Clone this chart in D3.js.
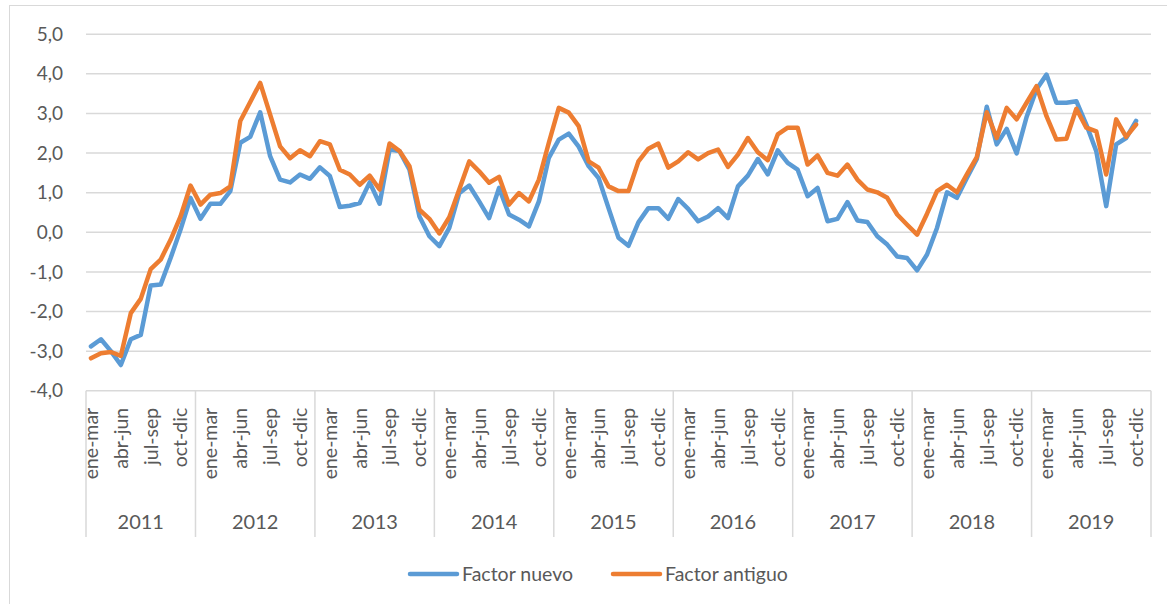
<!DOCTYPE html>
<html>
<head>
<meta charset="utf-8">
<script src="https://cdn.jsdelivr.net/npm/d3@7"></script>
<style>
  html, body { margin: 0; padding: 0; background: #fff; }
  svg { display: block; }
  .lbl { font-family: Lato, "Open Sans", sans-serif; fill: #595959; }
</style>
</head>
<body>
<svg id="chart" width="1167" height="604"></svg>
<script>
// Moving-quarter categories: month abbreviations and year groups
const months = ["ene", "feb", "mar", "abr", "may", "jun", "jul", "ago", "sep", "oct", "nov", "dic"];
const years = [2011, 2012, 2013, 2014, 2015, 2016, 2017, 2018, 2019];
const yTicks = [-4, -3, -2, -1, 0, 1, 2, 3, 4, 5];
const seriesNames = ["Factor nuevo", "Factor antiguo"];
const seriesColors = ["#5B9BD5", "#ED7D31"];

// Year-on-year variation (%), one value per moving quarter
const factorNuevo = [
  -2.88, -2.70, -3.00, -3.35, -2.70, -2.59, -1.34, -1.32, -0.65, 0.07, 0.87,
  0.34, 0.72, 0.72, 1.04, 2.26, 2.41, 3.03, 1.92, 1.33, 1.26, 1.46, 1.35,
  1.64, 1.42, 0.64, 0.67, 0.74, 1.26, 0.72, 2.09, 2.05, 1.58, 0.40, -0.10,
  -0.35, 0.11, 0.99, 1.18, 0.78, 0.36, 1.12, 0.45, 0.32, 0.15, 0.78, 1.88,
  2.34, 2.49, 2.16, 1.67, 1.37, 0.61, -0.14, -0.34, 0.25, 0.61, 0.61, 0.34,
  0.84, 0.59, 0.28, 0.40, 0.61, 0.36, 1.16, 1.43, 1.85, 1.46, 2.07, 1.75,
  1.58, 0.91, 1.12, 0.28, 0.34, 0.76, 0.30, 0.26, -0.10, -0.31, -0.61, -0.65,
  -0.96, -0.56, 0.11, 1.01, 0.87, 1.37, 1.85, 3.17, 2.22, 2.61, 1.99, 2.91,
  3.61, 3.98, 3.27, 3.27, 3.31, 2.72, 2.05, 0.66, 2.22, 2.38, 2.81
];
const factorAntiguo = [
  -3.18, -3.05, -3.02, -3.12, -2.04, -1.68, -0.93, -0.69, -0.19, 0.40, 1.18,
  0.70, 0.95, 0.99, 1.16, 2.81, 3.29, 3.77, 2.97, 2.17, 1.87, 2.07, 1.92,
  2.30, 2.22, 1.58, 1.46, 1.20, 1.43, 1.08, 2.24, 2.05, 1.67, 0.57, 0.34,
  -0.03, 0.38, 1.08, 1.79, 1.54, 1.25, 1.40, 0.70, 0.99, 0.78, 1.33, 2.26,
  3.14, 3.02, 2.68, 1.79, 1.63, 1.16, 1.04, 1.04, 1.79, 2.11, 2.24, 1.63,
  1.79, 2.02, 1.84, 2.00, 2.09, 1.65, 1.96, 2.38, 2.02, 1.82, 2.47, 2.64,
  2.64, 1.71, 1.94, 1.50, 1.43, 1.71, 1.33, 1.08, 1.01, 0.87, 0.45, 0.19,
  -0.06, 0.47, 1.04, 1.20, 1.01, 1.46, 1.90, 3.03, 2.38, 3.14, 2.85, 3.27,
  3.69, 2.93, 2.34, 2.36, 3.12, 2.64, 2.55, 1.46, 2.85, 2.41, 2.72
];

// Build the category list: 2011 starts at ene-mar, later years start at dic-feb
const categories = [];
const yearStart = [];
years.forEach((yr, k) => {
  yearStart.push(categories.length);
  const starts = k === 0 ? d3.range(0, 11) : [11].concat(d3.range(0, 11));
  starts.forEach(s => categories.push({ year: yr, label: months[s] + "-" + months[(s + 2) % 12] }));
});
const idx = d3.range(categories.length);

const svg = d3.select("#chart");

// Chart area frame
svg.append("rect")
  .attr("x", 9.5).attr("y", 5.5).attr("width", 1200).attr("height", 700)
  .attr("fill", "none").attr("stroke", "#d9d9d9").attr("stroke-width", 1);

const plotLeft = 86, plotRight = 1151, plotTop = 34.2, plotBottom = 390.8;

const x = d3.scaleBand().domain(idx).range([plotLeft, plotRight]).paddingInner(0).paddingOuter(0);
const xc = i => x(i) + x.bandwidth() / 2;
const y = d3.scaleLinear().domain([-4, 5]).range([plotBottom, plotTop]);

const loc = d3.formatLocale({ decimal: ",", thousands: ".", grouping: [3], currency: ["", "€"], minus: "-" });
const fmt = loc.format(".1f");

// Horizontal gridlines
svg.append("g").selectAll("line").data(yTicks).join("line")
  .attr("x1", plotLeft).attr("x2", plotRight)
  .attr("y1", d => y(d)).attr("y2", d => y(d))
  .attr("stroke", "#d9d9d9").attr("stroke-width", 1.5);

// Y axis labels
const yAxis = svg.append("g")
  .attr("transform", `translate(${plotLeft - 23},0)`)
  .call(d3.axisLeft(y).tickValues(yTicks).tickFormat(fmt).tickSize(0).tickPadding(0));
yAxis.select(".domain").remove();
yAxis.selectAll("text").attr("class", "lbl").attr("font-size", "19px").attr("fill", "#595959")
  .style("font-family", "Lato, 'Open Sans', sans-serif");

// X axis: moving-quarter labels every third category
const xAxis = svg.append("g")
  .attr("transform", `translate(0,${plotBottom})`)
  .call(d3.axisBottom(x).tickValues(idx.filter(i => i % 3 === 0)).tickFormat(i => categories[i].label).tickSize(0));
xAxis.select(".domain").remove();
xAxis.selectAll("text")
  .attr("class", "lbl")
  .attr("font-size", "19.5px")
  .attr("fill", "#595959")
  .style("font-family", "Lato, 'Open Sans', sans-serif")
  .attr("text-anchor", "end")
  .attr("transform", "rotate(-90)")
  .attr("x", -17).attr("y", 0).attr("dy", "0.35em");

// Year group separators and labels
const bounds = yearStart.map(s => x(s)).concat([plotRight]);
svg.append("g").selectAll("line").data(bounds).join("line")
  .attr("x1", d => d).attr("x2", d => d)
  .attr("y1", plotBottom).attr("y2", 537)
  .attr("stroke", "#d9d9d9").attr("stroke-width", 1.5);
svg.append("g").selectAll("text").data(years).join("text")
  .attr("class", "lbl")
  .attr("x", (d, k) => (bounds[k] + bounds[k + 1]) / 2)
  .attr("y", 522).attr("dy", "0.35em")
  .attr("text-anchor", "middle")
  .attr("font-size", "20px")
  .text(d => d);

// Series lines
const line = d3.line()
  .defined(d => d != null)
  .x((d, i) => xc(i))
  .y(d => y(d));
[factorNuevo, factorAntiguo].forEach((vals, k) => {
  svg.append("path")
    .datum(vals)
    .attr("fill", "none")
    .attr("stroke", seriesColors[k])
    .attr("stroke-width", 4.5)
    .attr("stroke-linejoin", "round")
    .attr("stroke-linecap", "round")
    .attr("d", line);
});

// Legend
const legendX = [410, 613];
const lg = svg.append("g").selectAll("g").data(seriesNames).join("g")
  .attr("transform", (d, k) => `translate(${legendX[k]},574)`);
lg.append("line")
  .attr("x1", 0).attr("x2", 47).attr("y1", 0).attr("y2", 0)
  .attr("stroke", (d, k) => seriesColors[k]).attr("stroke-width", 4.5).attr("stroke-linecap", "round");
lg.append("text")
  .attr("class", "lbl")
  .attr("x", 52).attr("y", 0).attr("dy", "0.35em")
  .attr("font-size", "19.5px")
  .text(d => d);
</script>
</body>
</html>
